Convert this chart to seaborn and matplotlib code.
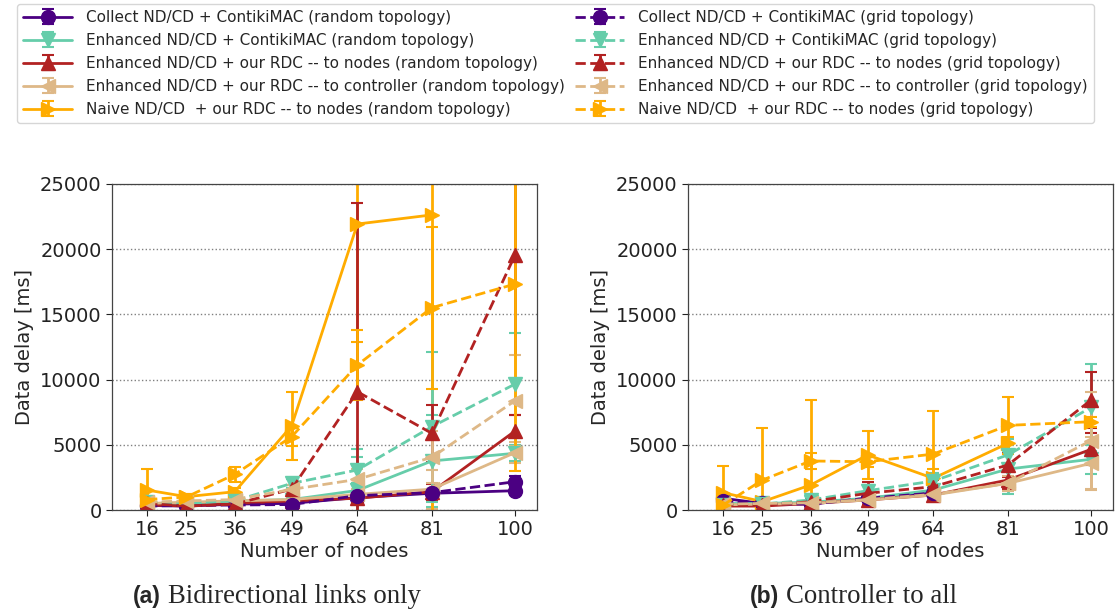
import numpy as np
import matplotlib
matplotlib.use("Agg")
import matplotlib.pyplot as plt
import seaborn as sns

nodes = [16, 25, 36, 49, 64, 81, 100]
nan = np.nan

labels = [
    "Collect ND/CD + ContikiMAC (random topology)",
    "Enhanced ND/CD + ContikiMAC (random topology)",
    "Enhanced ND/CD + our RDC -- to nodes (random topology)",
    "Enhanced ND/CD + our RDC -- to controller (random topology)",
    "Naive ND/CD  + our RDC -- to nodes (random topology)",
    "Collect ND/CD + ContikiMAC (grid topology)",
    "Enhanced ND/CD + ContikiMAC (grid topology)",
    "Enhanced ND/CD + our RDC -- to nodes (grid topology)",
    "Enhanced ND/CD + our RDC -- to controller (grid topology)",
    "Naive ND/CD  + our RDC -- to nodes (grid topology)",
]

# Panel (a): Bidirectional links only
a_collect_rand = [350, 300, 450, 510, 950, 1280, 1480]
a_collect_rand_err = [150, 100, 150, 150, 300, 300, 300]
a_ecm_rand = [500, 500, 700, 800, 1500, 3760, 4350]
a_ecm_rand_err = [300, 200, 200, 300, 3200, 3500, 600]
a_rdcn_rand = [400, 300, 500, 700, 900, 1400, 6060]
a_rdcn_rand_err = [200, 100, 200, 200, 300, 600, 1230]
a_rdcc_rand = [500, 600, 700, 800, 1200, 1600, 4400]
a_rdcc_rand_err = [200, 150, 200, 200, 400, 1500, 800]
a_naive_rand = [1530, 1020, 1400, 6450, 21930, 22630, nan]
a_naive_rand_err = [1610, 200, 300, 2620, 9030, 24000, nan]
a_collect_grid = [300, 350, 380, 420, 1100, 1330, 2170]
a_collect_grid_err = [150, 100, 150, 150, 300, 300, 400]
a_ecm_grid = [600, 500, 700, 2040, 3070, 6390, 9660]
a_ecm_grid_err = [300, 200, 300, 350, 1000, 5750, 3940]
a_rdcn_grid = [500, 300, 450, 1600, 9070, 5880, 19560]
a_rdcn_grid_err = [200, 100, 200, 300, 14500, 2170, 12270]
a_rdcc_grid = [600, 700, 800, 1580, 2350, 4040, 8380]
a_rdcc_grid_err = [250, 200, 250, 300, 800, 2000, 3510]
a_naive_grid = [800, 1000, 2730, 5620, 11120, 15515, 17330]
a_naive_grid_err = [300, 200, 600, 700, 2650, 6215, 14360]

# Panel (b): Controller to all
b_collect_rand = [900, 500, 450, 900, 1330, nan, nan]
b_collect_rand_err = [200, 150, 150, 300, 400, nan, nan]
b_ecm_rand = [500, 500, 600, 900, 1530, 3140, 3890]
b_ecm_rand_err = [200, 150, 150, 300, 400, 1900, 1130]
b_rdcn_rand = [300, 300, 500, 770, 1150, 2300, 4650]
b_rdcn_rand_err = [150, 100, 150, 300, 300, 700, 1230]
b_rdcc_rand = [400, 450, 500, 770, 1150, 2040, 3580]
b_rdcc_rand_err = [150, 100, 150, 200, 300, 600, 2000]
b_naive_rand = [1330, 640, 1920, 4220, 2430, 5110, nan]
b_naive_rand_err = [2070, 300, 6490, 1830, 700, 500, nan]
b_collect_grid = [700, 500, 450, 900, 1300, nan, nan]
b_collect_grid_err = [200, 150, 150, 300, 400, nan, nan]
b_ecm_grid = [400, 450, 770, 1480, 2220, 4220, 7870]
b_ecm_grid_err = [200, 150, 200, 400, 600, 1200, 3330]
b_rdcn_grid = [400, 350, 640, 1280, 1790, 3450, 8430]
b_rdcn_grid_err = [200, 100, 200, 900, 500, 900, 2130]
b_rdcc_grid = [450, 500, 550, 800, 1200, 2040, 5320]
b_rdcc_grid_err = [150, 100, 150, 200, 300, 600, 3750]
b_naive_grid = [380, 2300, 3760, 3700, 4290, 6490, 6770]
b_naive_grid_err = [300, 4010, 640, 400, 3280, 2200, 400]

panel_a = [
    (a_collect_rand, a_collect_rand_err), (a_ecm_rand, a_ecm_rand_err),
    (a_rdcn_rand, a_rdcn_rand_err), (a_rdcc_rand, a_rdcc_rand_err),
    (a_naive_rand, a_naive_rand_err),
    (a_collect_grid, a_collect_grid_err), (a_ecm_grid, a_ecm_grid_err),
    (a_rdcn_grid, a_rdcn_grid_err), (a_rdcc_grid, a_rdcc_grid_err),
    (a_naive_grid, a_naive_grid_err),
]
panel_b = [
    (b_collect_rand, b_collect_rand_err), (b_ecm_rand, b_ecm_rand_err),
    (b_rdcn_rand, b_rdcn_rand_err), (b_rdcc_rand, b_rdcc_rand_err),
    (b_naive_rand, b_naive_rand_err),
    (b_collect_grid, b_collect_grid_err), (b_ecm_grid, b_ecm_grid_err),
    (b_rdcn_grid, b_rdcn_grid_err), (b_rdcc_grid, b_rdcc_grid_err),
    (b_naive_grid, b_naive_grid_err),
]

colors = ["#4B0082", "#66CDAA", "#B22222", "#DEB887", "#FFAC00"] * 2
markers = ["o", "v", "^", "<", ">"] * 2
styles = ["-"] * 5 + ["--"] * 5

sns.set_style("ticks")
plt.rcParams["font.family"] = ["DejaVu Sans"]

fig = plt.figure(figsize=(11.17, 6.15), dpi=100)
ax_a = fig.add_axes([112 / 1117, 1 - 510 / 615, 425 / 1117, 326 / 615])
ax_b = fig.add_axes([688 / 1117, 1 - 510 / 615, 425 / 1117, 326 / 615])

handles = []
for ax, data in [(ax_a, panel_a), (ax_b, panel_b)]:
    hs = []
    for (vals, errs), c, m, ls, lab in zip(data, colors, markers, styles, labels):
        h = ax.errorbar(nodes, vals, yerr=errs, color=c, marker=m, linestyle=ls,
                        linewidth=2, markersize=10, capsize=4, elinewidth=2,
                        capthick=1.5, label=lab)
        hs.append(h)
    if ax is ax_a:
        handles = hs
    ax.set_xlim(8, 105)
    ax.set_ylim(0, 25000)
    ax.set_xticks(nodes)
    ax.set_yticks([0, 5000, 10000, 15000, 20000, 25000])
    ax.tick_params(labelsize=14, length=4, width=0.8, colors="#222222")
    ax.yaxis.grid(True, linestyle=":", color="gray", linewidth=1)
    ax.set_axisbelow(True)
    for s in ax.spines.values():
        s.set_visible(True)
        s.set_color("#444444")
        s.set_linewidth(0.9)
    ax.set_xlabel("Number of nodes", fontsize=14, labelpad=2)
    ax.set_ylabel("Data delay [ms]", fontsize=14, labelpad=4)

leg = fig.legend(handles, labels, loc="upper left",
                 bbox_to_anchor=(17 / 1117, 1 - 4 / 615),
                 ncol=2, fontsize=11, frameon=True,
                 labelspacing=0.52, handlelength=3.2, handletextpad=0.9,
                 columnspacing=0.7, borderpad=0.4, borderaxespad=0.0,
                 fancybox=True)
leg.get_frame().set_edgecolor("#cccccc")

fig.canvas.draw()
renderer = fig.canvas.get_renderer()
for x0, tag, rest in [(133, "(a)", "Bidirectional links only"),
                      (750, "(b)", "Controller to all")]:
    t1 = fig.text(x0 / 1117, 1 - 603 / 615, tag, fontsize=16.5, fontweight="bold",
                  family="Liberation Sans", ha="left", va="baseline")
    bb = t1.get_window_extent(renderer=renderer)
    fig.text((bb.x1 + 7) / 1117, 1 - 603 / 615, rest, fontsize=19.3,
             family="Liberation Serif", ha="left", va="baseline")

fig.savefig("out.png", dpi=100)
